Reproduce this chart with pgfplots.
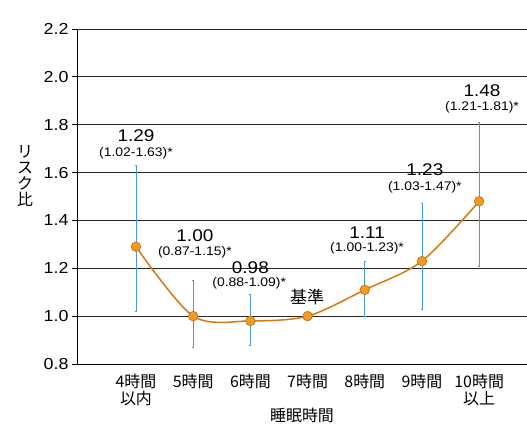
\documentclass[border=0pt]{standalone}
\usepackage{pgfplots}
\pgfplotsset{compat=1.18}
\usepackage{fontspec}
\setmainfont{Liberation Sans}[FakeStretch=1.12]
\newfontfamily\jp{Noto Sans CJK JP}
\definecolor{lineor}{HTML}{D47A14}
\definecolor{markor}{HTML}{F39A22}
\definecolor{errblue}{HTML}{4A9AD0}
\begin{document}
\begin{tikzpicture}
\begin{axis}[
  scale only axis, width=450bp, height=335bp,
  xmin=-1.031, xmax=6.836, ymin=0.8, ymax=2.2,
  axis lines*=left,
  axis line style={black, line width=0.9bp},
  clip=false,
  ymajorgrids,
  grid style={black!85, line width=0.9bp},
  ytick={0.8,1.0,1.2,1.4,1.6,1.8,2.0,2.2},
  yticklabel style={/pgf/number format/fixed, /pgf/number format/fixed zerofill, /pgf/number format/precision=1, /pgf/number format/assume math mode=true, font=\fontsize{16}{18}\selectfont},
  ytick style={black, line width=0.8bp},
  tick align=outside, major tick length=5bp,
  xtick={0,1,2,3,4,5,6},
  xtick style={draw=none},
  xticklabels={{4時間\\以内},{5時間},{6時間},{7時間},{8時間},{9時間},{10時間\\以上}},
  xticklabel style={align=center, font=\jp\fontsize{16}{17}\selectfont, yshift=-2bp},
  xlabel={睡眠時間},
  xlabel style={font=\jp\fontsize{16}{18}\selectfont, yshift=4.5bp},
]
% error bars
\addplot[draw=none, mark=none, forget plot, error bars/.cd, y dir=both, y explicit,
  error bar style={errblue, line width=0.8bp}, error mark options={errblue, mark size=1bp, rotate=90}]
  table[x=x, y=y, y error plus=ep, y error minus=em] {
x y ep em
0 1.29 0.34 0.27
1 1.00 0.15 0.13
2 0.98 0.11 0.10
4 1.11 0.12 0.11
5 1.23 0.24 0.20
6 1.48 0.33 0.27
};
% line
\addplot[lineor, line width=1.5bp, smooth, mark=*, mark size=4.8bp,
  mark options={fill=markor, draw=lineor!90!black, line width=0.6bp}]
  table {
x y
0 1.29
1 1.00
2 0.98
3 1.00
4 1.11
5 1.23
6 1.48
};
% labels
\node[font=\fontsize{17}{18}\selectfont] at (axis cs:0.0,1.753) {1.29};
\node[font=\fontsize{12.5}{14}\selectfont] at (axis cs:0.0,1.682) {(1.02-1.63)*};
\node[font=\fontsize{17}{18}\selectfont] at (axis cs:1.03,1.335) {1.00};
\node[font=\fontsize{12.5}{14}\selectfont] at (axis cs:1.03,1.268) {(0.87-1.15)*};
\node[font=\fontsize{17}{18}\selectfont] at (axis cs:2.0,1.201) {0.98};
\node[font=\fontsize{12.5}{14}\selectfont] at (axis cs:1.98,1.139) {(0.88-1.09)*};
\node[font=\jp\fontsize{17}{18}\selectfont] at (axis cs:2.99,1.08) {基準};
\node[font=\fontsize{17}{18}\selectfont] at (axis cs:4.04,1.347) {1.11};
\node[font=\fontsize{12.5}{14}\selectfont] at (axis cs:4.04,1.285) {(1.00-1.23)*};
\node[font=\fontsize{17}{18}\selectfont] at (axis cs:5.05,1.611) {1.23};
\node[font=\fontsize{12.5}{14}\selectfont] at (axis cs:5.05,1.540) {(1.03-1.47)*};
\node[font=\fontsize{17}{18}\selectfont] at (axis cs:6.05,1.941) {1.48};
\node[font=\fontsize{12.5}{14}\selectfont] at (axis cs:6.05,1.874) {(1.21-1.81)*};
\node[font=\jp\fontsize{16}{16}\selectfont, align=center] at ([xshift=-52bp]rel axis cs:0,0.561) {リ\\ス\\ク\\比};
\coordinate (sw) at (rel axis cs:0,0);
\coordinate (ne) at (rel axis cs:1,1);
\end{axis}
\pgfresetboundingbox
\path[use as bounding box] ([shift={(-77bp,-61bp)}]sw) rectangle ([shift={(0bp,29bp)}]ne);
\end{tikzpicture}
\end{document}
